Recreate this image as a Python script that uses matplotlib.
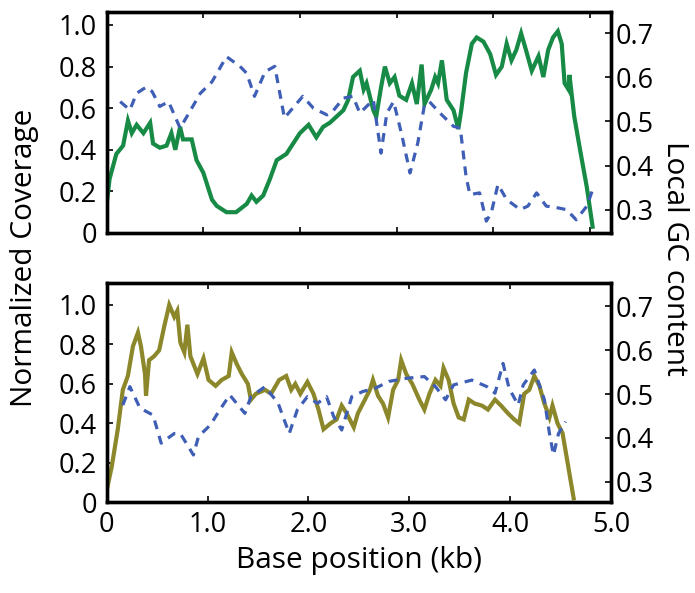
import numpy as np
import matplotlib
matplotlib.use('Agg')
import matplotlib.pyplot as plt

plt.rcParams['font.family'] = ['Open Sans', 'DejaVu Sans']

# upper sample: coverage profile (kb, normalized) and local GC
cov1_x = [0.00, 0.03, 0.10, 0.17, 0.22, 0.26, 0.31, 0.38, 0.45, 0.48, 0.55, 0.62, 0.67, 0.71,
          0.76, 0.79, 0.88, 0.93, 1.00, 1.09, 1.14, 1.24, 1.34, 1.45, 1.50, 1.55, 1.62, 1.69,
          1.76, 1.86, 1.93, 2.00, 2.09, 2.17, 2.24, 2.31, 2.38, 2.45, 2.50, 2.55, 2.62, 2.66,
          2.69, 2.76, 2.79, 2.84, 2.88, 2.93, 2.98, 3.03, 3.10, 3.16, 3.21, 3.26, 3.29, 3.36,
          3.40, 3.43, 3.47, 3.52, 3.59, 3.64, 3.67, 3.72, 3.78, 3.83, 3.90, 3.97, 4.03, 4.09,
          4.14, 4.19, 4.24, 4.29, 4.34, 4.40, 4.47, 4.52, 4.57, 4.62, 4.67, 4.71, 4.74, 4.78,
          4.79, 4.84, 4.90, 4.97, 5.03]
cov1_y = [0.14, 0.26, 0.38, 0.42, 0.54, 0.48, 0.52, 0.48, 0.53, 0.43, 0.41, 0.42, 0.48, 0.40,
          0.51, 0.45, 0.45, 0.35, 0.29, 0.16, 0.13, 0.10, 0.10, 0.14, 0.18, 0.15, 0.18, 0.26,
          0.35, 0.38, 0.43, 0.48, 0.52, 0.46, 0.51, 0.53, 0.56, 0.59, 0.64, 0.75, 0.78, 0.69,
          0.72, 0.59, 0.56, 0.70, 0.80, 0.72, 0.75, 0.66, 0.64, 0.72, 0.62, 0.81, 0.62, 0.69,
          0.75, 0.72, 0.83, 0.64, 0.59, 0.50, 0.59, 0.77, 0.91, 0.94, 0.92, 0.86, 0.76, 0.80,
          0.91, 0.83, 0.88, 0.96, 0.88, 0.78, 0.85, 0.75, 0.88, 0.94, 0.97, 0.91, 0.72, 0.69,
          0.76, 0.56, 0.40, 0.22, 0.03]
gc1_x = [0.14, 0.24, 0.31, 0.41, 0.47, 0.55, 0.64, 0.76, 0.83, 0.97, 1.09, 1.24, 1.38, 1.45,
         1.53, 1.64, 1.74, 1.84, 2.03, 2.14, 2.28, 2.34, 2.45, 2.55, 2.62, 2.76, 2.84, 2.90,
         2.97, 3.05, 3.14, 3.22, 3.29, 3.34, 3.45, 3.59, 3.66, 3.72, 3.76, 3.86, 3.93, 3.98,
         4.05, 4.14, 4.28, 4.36, 4.45, 4.55, 4.67, 4.76, 4.86, 4.97, 5.03]
gc1_y = [0.545, 0.526, 0.564, 0.578, 0.568, 0.534, 0.545, 0.485, 0.511, 0.564, 0.590, 0.647,
         0.625, 0.609, 0.557, 0.613, 0.625, 0.508, 0.557, 0.530, 0.515, 0.523, 0.553, 0.557,
         0.519, 0.549, 0.428, 0.519, 0.545, 0.474, 0.383, 0.451, 0.538, 0.545, 0.519, 0.489,
         0.485, 0.375, 0.334, 0.338, 0.274, 0.292, 0.357, 0.323, 0.300, 0.308, 0.338, 0.308,
         0.304, 0.300, 0.277, 0.308, 0.345]

# lower sample
cov2_x = [0.00, 0.05, 0.11, 0.16, 0.21, 0.26, 0.31, 0.34, 0.38, 0.39, 0.42, 0.47, 0.52, 0.57,
          0.62, 0.67, 0.70, 0.73, 0.77, 0.80, 0.83, 0.90, 0.96, 1.01, 1.08, 1.14, 1.21, 1.24,
          1.29, 1.34, 1.40, 1.43, 1.48, 1.57, 1.63, 1.71, 1.78, 1.83, 1.87, 1.92, 1.99, 2.05,
          2.10, 2.15, 2.22, 2.28, 2.33, 2.38, 2.45, 2.49, 2.56, 2.61, 2.64, 2.69, 2.74, 2.79,
          2.84, 2.89, 2.92, 2.97, 3.03, 3.10, 3.15, 3.20, 3.26, 3.31, 3.34, 3.39, 3.44, 3.49,
          3.54, 3.59, 3.65, 3.72, 3.78, 3.85, 3.91, 3.98, 4.04, 4.09, 4.14, 4.19, 4.24, 4.29,
          4.34, 4.39, 4.42, 4.47, 4.52, 4.56, 4.60, 4.63]
cov2_y = [0.06, 0.18, 0.37, 0.57, 0.64, 0.79, 0.86, 0.79, 0.65, 0.54, 0.72, 0.74, 0.77, 0.89,
          1.00, 0.94, 0.97, 0.81, 0.76, 0.90, 0.74, 0.65, 0.73, 0.62, 0.59, 0.62, 0.64, 0.76,
          0.70, 0.65, 0.60, 0.52, 0.55, 0.57, 0.55, 0.62, 0.64, 0.57, 0.60, 0.55, 0.61, 0.55,
          0.47, 0.37, 0.40, 0.42, 0.49, 0.45, 0.38, 0.45, 0.52, 0.57, 0.62, 0.54, 0.50, 0.43,
          0.57, 0.62, 0.72, 0.65, 0.60, 0.52, 0.47, 0.55, 0.62, 0.59, 0.68, 0.62, 0.50, 0.43,
          0.42, 0.52, 0.50, 0.49, 0.47, 0.52, 0.49, 0.45, 0.42, 0.40, 0.55, 0.57, 0.64, 0.59,
          0.50, 0.43, 0.49, 0.40, 0.35, 0.23, 0.11, 0.02]
gc2_x = [0.16, 0.23, 0.33, 0.46, 0.54, 0.67, 0.73, 0.86, 0.91, 1.03, 1.11, 1.22, 1.37, 1.43,
         1.57, 1.70, 1.81, 1.89, 1.99, 2.09, 2.18, 2.25, 2.33, 2.43, 2.54, 2.66, 2.80, 2.97,
         3.15, 3.26, 3.36, 3.44, 3.62, 3.77, 3.85, 3.93, 3.99, 4.08, 4.13, 4.24, 4.34, 4.39,
         4.43, 4.48, 4.55]
gc2_y = [0.475, 0.517, 0.468, 0.452, 0.388, 0.410, 0.410, 0.361, 0.403, 0.430, 0.460, 0.498,
         0.456, 0.494, 0.517, 0.479, 0.410, 0.464, 0.494, 0.479, 0.494, 0.449, 0.418, 0.494,
         0.506, 0.513, 0.529, 0.536, 0.540, 0.517, 0.487, 0.521, 0.532, 0.517, 0.502, 0.570,
         0.513, 0.475, 0.521, 0.555, 0.487, 0.410, 0.361, 0.410, 0.437]

fig = plt.figure(figsize=(6.95, 5.93), dpi=100)
ax1 = fig.add_axes([0.1535, 0.6071, 0.7256, 0.3732])
ax2 = fig.add_axes([0.1535, 0.1530, 0.7256, 0.3693])

blue = '#3f5fb6'
panels = [
    (ax1, cov1_x, cov1_y, gc1_x, gc1_y, '#178a45', (0, 5.22), (0, 1.064), (0.247, 0.749)),
    (ax2, cov2_x, cov2_y, gc2_x, gc2_y, '#8b872a', (0, 5.0), (0, 1.11), (0.253, 0.753)),
]
for ax, cx, cy, gx, gy, col, xl, yl, gl in panels:
    tw = ax.twinx()
    ax.plot(cx, cy, color=col, lw=3.0, solid_joinstyle='miter')
    tw.plot(gx, gy, color=blue, lw=2.3, linestyle=(0, (2.8, 2.2)))
    ax.set_xlim(*xl)
    ax.set_ylim(*yl)
    tw.set_ylim(*gl)
    ax.set_xticks([0, 1, 2, 3, 4, 5])
    ax.set_xticklabels(['0', '1.0', '2.0', '3.0', '4.0', '5.0'])
    ax.set_yticks([0, 0.2, 0.4, 0.6, 0.8, 1.0])
    ax.set_yticklabels(['0', '0.2', '0.4', '0.6', '0.8', '1.0'])
    tw.set_yticks([0.3, 0.4, 0.5, 0.6, 0.7])
    tw.set_yticklabels(['0.3', '0.4', '0.5', '0.6', '0.7'])
    ax.tick_params(direction='in', top=True, length=4, width=1.2, labelsize=19.5)
    ax.tick_params(axis='y', pad=7)
    ax.tick_params(axis='x', pad=6.5)
    tw.tick_params(direction='in', length=4, width=1.2, labelsize=19.5, pad=3)
    for a in (ax, tw):
        for s in a.spines.values():
            s.set_linewidth(2.4)

ax1.tick_params(labelbottom=False)
ax2.set_xlabel('Base position (kb)', fontsize=21.5, labelpad=5)
fig.text(0.035, 0.565, 'Normalized Coverage', rotation=90, fontsize=21.5,
         ha='center', va='center')
fig.text(0.97, 0.565, 'Local GC content', rotation=270, fontsize=21.5,
         ha='center', va='center')

fig.savefig('out.png', dpi=100)
